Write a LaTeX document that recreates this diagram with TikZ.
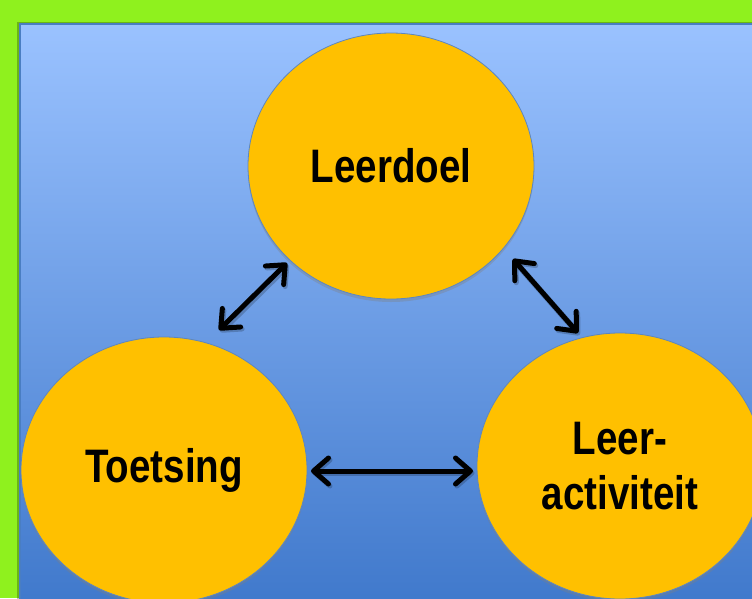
\documentclass[tikz,border=0pt]{standalone}
\usepackage{fontspec}
\setmainfont{Liberation Sans}
\usetikzlibrary{shapes.geometric,arrows.meta,shadows}
\definecolor{bggreen}{HTML}{8FF11E}
\definecolor{bluetop}{HTML}{9AC2FF}
\definecolor{bluebot}{HTML}{3F78CB}
\definecolor{blueedge}{HTML}{4A7EC2}
\definecolor{gold}{HTML}{FFC000}
\definecolor{goldedge}{HTML}{5B86C2}
\newcommand{\nar}[1]{\scalebox{0.82}[1]{#1}}
\tikzset{
  bubble/.style={ellipse, inner sep=0pt, minimum width=286pt, minimum height=266pt,
    fill=gold, draw=goldedge, line width=0.8pt,
    drop shadow={shadow xshift=0pt, shadow yshift=-3pt, opacity=0.35},
    font=\fontsize{47}{55}\selectfont\bfseries, align=center, text=black},
  barb/.tip={Straight Barb[length=15pt,width=26pt,line width=5pt,line cap=round,line join=round]},
  link/.style={line width=5pt, line cap=round, barb-barb,
    preaction={draw=black, opacity=0.2, line width=6pt, transform canvas={xshift=1.5pt,yshift=-2pt}}}
}
\begin{document}
\begin{tikzpicture}[x=1pt,y=-1pt]
\useasboundingbox (0,0) rectangle (752,598);
\fill[bggreen] (0,0) rectangle (752,598);
\fill[black,opacity=0.25] (17,22) rectangle (760,610);
\shade[top color=bluetop, bottom color=bluebot] (20,24) rectangle (760,610);
\draw[blueedge, line width=1.5pt] (20,610) -- (20,24) -- (760,24);
\node[bubble] (L) at (391,166) {\nar{Leerdoel}};
\node[bubble] (T) at (164,470) {\nar{Toetsing}};
\node[bubble] (A) at (620,466) {\nar{Leer-}\\\nar{activiteit}};
\coordinate (l1) at (287,263);
\coordinate (t1) at (219,330);
\coordinate (l2) at (513,259);
\coordinate (a2) at (578,333);
\coordinate (t3) at (311,471);
\coordinate (a3) at (473,471);
\draw[link] (t1) -- (l1);
\draw[link] (l2) -- (a2);
\draw[link] (t3) -- (a3);
\end{tikzpicture}
\end{document}
